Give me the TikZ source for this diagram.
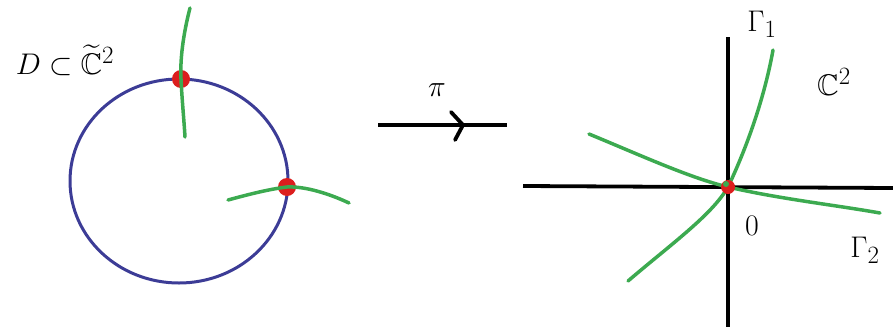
\documentclass[tikz,border=0pt]{standalone}
\usepackage{amssymb}
\definecolor{divblue}{RGB}{60,60,150}
\definecolor{curvegreen}{RGB}{60,170,80}
\definecolor{ptred}{RGB}{220,30,30}
\begin{document}
\begin{tikzpicture}[x=1pt,y=-1pt,
  blueline/.style={draw=divblue,line width=3pt},
  greenline/.style={draw=curvegreen,line width=3.5pt,line cap=round},
  blackline/.style={draw=black,line width=3.8pt},
  reddot/.style={fill=ptred},
  lbl/.style={font=\Huge,scale=1.2,inner sep=0pt}]
\useasboundingbox (0,0) rectangle (893,327);
% left: exceptional divisor
\draw[blueline] (179,181) ellipse [x radius=109, y radius=102];
\fill[reddot] (181,79) circle (9);
\fill[reddot] (287,187) circle (9);
\draw[greenline] (190,8) .. controls (183,35) and (180,60) .. (181,79) .. controls (182,100) and (184,120) .. (185,137);
\draw[greenline] (228,200) .. controls (250,194) and (270,189) .. (287,187) .. controls (305,186) and (330,194) .. (349,203);
\node[lbl] (D) at (65,60) {$D\subset\widetilde{\mathbb C}^2$};
% arrow
\coordinate (a1) at (378,125);
\coordinate (a2) at (507,125);
\draw[blackline] (a1) -- (a2);
\draw[blackline,line cap=round] (451,112) -- (463,125) -- (455,140);
\node[lbl] (pi) at (437,90) {$\pi$};
% right: C^2
\coordinate (xl) at (523,186);
\coordinate (xr) at (893,188);
\coordinate (yt) at (728,37);
\coordinate (yb) at (728,327);
\draw[blackline] (xl) -- (xr);
\draw[blackline] (yt) -- (yb);
\draw[greenline] (628,281) .. controls (670,245) and (712,215) .. (728,187) .. controls (748,145) and (765,95) .. (773,50);
\draw[greenline] (589,134) .. controls (640,155) and (690,178) .. (728,187) .. controls (780,199) and (835,205) .. (880,213);
\fill[reddot] (728,187) circle (7);
\fill[curvegreen] (726,184) circle (3);
\node[lbl] (G1) at (762,24) {$\Gamma_1$};
\node[lbl] (C2) at (834,82) {$\mathbb C^2$};
\node[lbl] (O) at (752,226) {$0$};
\node[lbl] (G2) at (865,250) {$\Gamma_2$};
\end{tikzpicture}
\end{document}
